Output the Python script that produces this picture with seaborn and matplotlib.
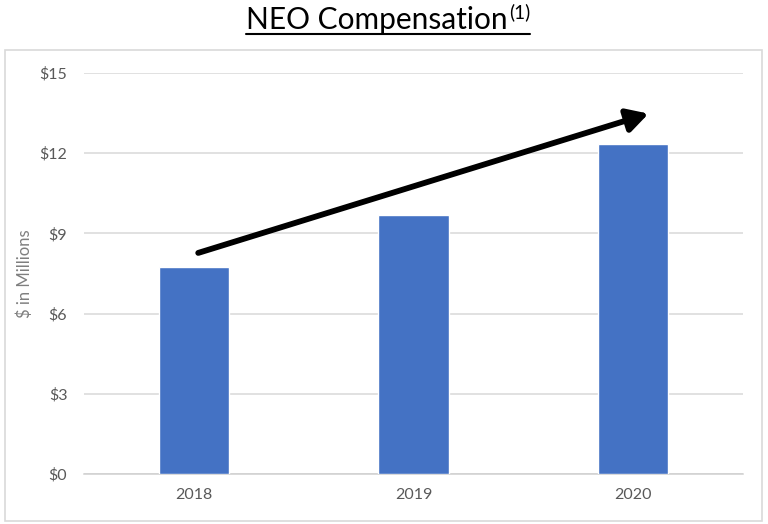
import matplotlib
matplotlib.use("Agg")
import matplotlib.pyplot as plt
import seaborn as sns
import pandas as pd
from matplotlib.lines import Line2D
from matplotlib.patches import Rectangle

years = ["2018", "2019", "2020"]
comp_millions = [7.76, 9.70, 12.35]
y_ticks = [0, 3, 6, 9, 12, 15]
y_tick_labels = ["$0", "$3", "$6", "$9", "$12", "$15"]
trend_start = (0.02, 8.27)
trend_end = (2.07, 13.48)

sns.set_theme(style="white")
plt.rcParams["font.family"] = ["Lato", "DejaVu Sans"]

df = pd.DataFrame({"year": years, "comp": comp_millions})

fig = plt.figure(figsize=(7.68, 5.24), dpi=100)
ax = fig.add_axes([84 / 768, 1 - 474 / 524, (743 - 84) / 768, (474 - 73) / 524])

sns.barplot(data=df, x="year", y="comp", color="#4472C4", saturation=1,
            width=0.32, ax=ax, zorder=3)

ax.set_ylim(0, 15)
ax.set_xlim(-0.5, 2.5)
ax.set_yticks(y_ticks)
ax.set_yticklabels(y_tick_labels)
ax.yaxis.grid(True, color="#d9d9d9", linewidth=1.1, zorder=0)
ax.set_axisbelow(True)
for s in ["top", "right", "left"]:
    ax.spines[s].set_visible(False)
ax.spines["bottom"].set_color("#d0d0d0")
ax.spines["bottom"].set_linewidth(1.1)
ax.tick_params(axis="both", length=0, labelsize=11.5, colors="#595959", pad=12)
ax.tick_params(axis="x", pad=10)
ax.set_xlabel("")
ax.set_ylabel("$ in Millions", fontsize=12, color="#7f7f7f", labelpad=8)
ax.yaxis.set_label_coords(-0.078, 0.5)

ax.annotate("", xy=trend_end, xytext=trend_start,
            arrowprops=dict(arrowstyle="-|>,head_length=0.9,head_width=0.5",
                            lw=4.2, color="black", shrinkA=0, shrinkB=0,
                            mutation_scale=14),
            zorder=5)

# chart border
fig.add_artist(Rectangle((5 / 768, 1 - 521 / 524), 757 / 768, 471 / 524,
                         transform=fig.transFigure, fill=False,
                         edgecolor="#d9d9d9", linewidth=1.2))

# title with superscript and underline
t = fig.text(246 / 768, 1 - 29 / 524, "NEO Compensation", fontsize=21.5,
             color="black", ha="left", va="baseline")
fig.canvas.draw()
r = fig.canvas.get_renderer()
bb = t.get_window_extent(r)
sup = fig.text((bb.x1 + 1) / 768, 1 - 18 / 524, "(1)", fontsize=13.5,
               color="black", ha="left", va="baseline")
fig.canvas.draw()
bb2 = sup.get_window_extent(r)
fig.add_artist(Line2D([bb.x0 / 768, bb2.x1 / 768], [1 - 34 / 524, 1 - 34 / 524],
                      transform=fig.transFigure, color="black", linewidth=1.5))

fig.savefig("out.png", dpi=100)
